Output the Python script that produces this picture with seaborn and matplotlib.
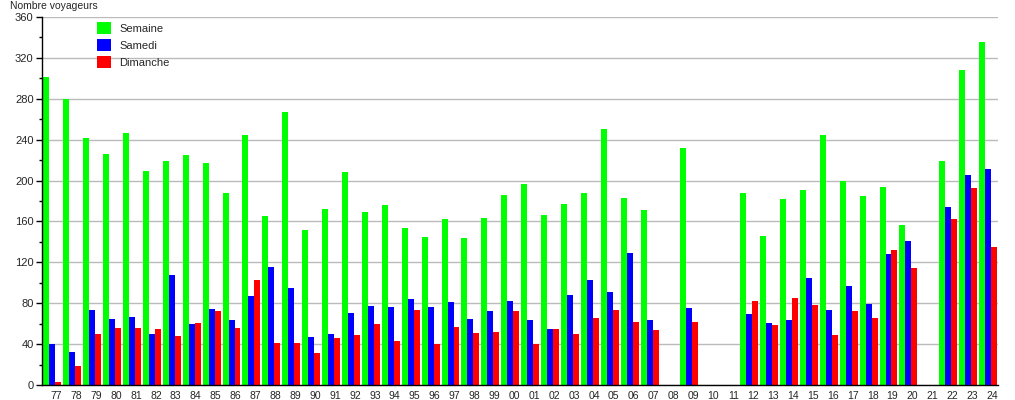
import numpy as np
import pandas as pd
import matplotlib
matplotlib.use("Agg")
import matplotlib.pyplot as plt
import matplotlib.transforms as mtransforms
from matplotlib.ticker import MultipleLocator
import seaborn as sns

# Years (two-digit labels), 1977 -> 2024
years = ["77", "78", "79", "80", "81", "82", "83", "84", "85", "86", "87", "88",
         "89", "90", "91", "92", "93", "94", "95", "96", "97", "98", "99", "00",
         "01", "02", "03", "04", "05", "06", "07", "08", "09", "10", "11", "12",
         "13", "14", "15", "16", "17", "18", "19", "20", "21", "22", "23", "24"]

nan = np.nan
semaine = [301, 280, 242, 226, 247, 209, 219, 225, 217, 188, 245, 165,
           267, 152, 172, 208, 169, 176, 154, 145, 162, 144, 163, 186,
           197, 166, 177, 188, 250, 183, 171, nan, 232, nan, nan, 188,
           146, 182, 191, 245, 200, 185, 194, 157, nan, 219, 308, 336]
samedi = [40, 32, 73, 65, 67, 50, 108, 60, 74, 64, 87, 115,
          95, 47, 50, 70, 77, 76, 84, 76, 81, 65, 72, 82,
          64, 55, 88, 103, 91, 129, 64, nan, 75, nan, nan, 69,
          61, 64, 105, 73, 97, 79, 128, 141, nan, 174, 205, 211]
dimanche = [3, 19, 50, 56, 56, 55, 48, 61, 72, 56, 103, 41,
            41, 31, 46, 49, 60, 43, 73, 40, 57, 51, 52, 72,
            40, 55, 50, 66, 73, 62, 54, nan, 62, nan, nan, 82,
            59, 85, 78, 49, 72, 66, 132, 114, nan, 162, 193, 135]

series = ["Semaine", "Samedi", "Dimanche"]
colors = ["#00ff00", "#0000ff", "#ff0000"]

df = pd.DataFrame({"annee": years, "Semaine": semaine,
                   "Samedi": samedi, "Dimanche": dimanche})
long = df.melt(id_vars="annee", value_vars=series,
               var_name="jour", value_name="voyageurs")

sns.set_style("white")
plt.rcParams["font.family"] = ["Liberation Sans", "DejaVu Sans"]

fig = plt.figure(figsize=(10.15, 4.0), dpi=100)
ax = fig.add_axes([42 / 1015, 15 / 400, 956 / 1015, 368 / 400])

sns.barplot(data=long, x="annee", y="voyageurs", hue="jour",
            order=years, hue_order=series, palette=colors,
            width=0.9, saturation=1, linewidth=0, ax=ax)

ax.set_xlim(-0.52, len(years) - 0.5)
ax.set_ylim(0, 360)
ax.yaxis.set_major_locator(MultipleLocator(40))
ax.yaxis.set_minor_locator(MultipleLocator(20))
ax.grid(axis="y", which="major", color="#bbbbbb", linewidth=1)
ax.set_axisbelow(True)
ax.set_xlabel("")
ax.set_ylabel("")

for side in ["top", "right"]:
    ax.spines[side].set_visible(False)
ax.spines["left"].set_color("black")
ax.spines["bottom"].set_color("black")
ax.spines["left"].set_linewidth(1)
ax.spines["bottom"].set_linewidth(1)

ax.tick_params(axis="y", which="major", left=True, length=4, width=1,
               labelsize=8, pad=2, color="black")
ax.tick_params(axis="y", which="minor", left=True, length=2, width=1,
               color="black")
ax.tick_params(axis="x", bottom=False, labelsize=7.5, pad=0.5)

# labels sit a little to the right of the group centres
offset = mtransforms.ScaledTranslation(4 / 100, 0, fig.dpi_scale_trans)
for lab in ax.get_xticklabels():
    lab.set_transform(lab.get_transform() + offset)

fig.text(10 / 1015, 1 - 6 / 400, "Nombre voyageurs", fontsize=7.5,
         ha="left", va="center")

handles, labels = ax.get_legend_handles_labels()
ax.legend(handles, labels, loc="upper left",
          bbox_to_anchor=(47 / 956, 1 + 3 / 368),
          frameon=False, fontsize=8, handlelength=1.3, handleheight=1.3,
          handletextpad=0.75, labelspacing=0.45, borderpad=0.2)

fig.savefig("out.png", dpi=100)
